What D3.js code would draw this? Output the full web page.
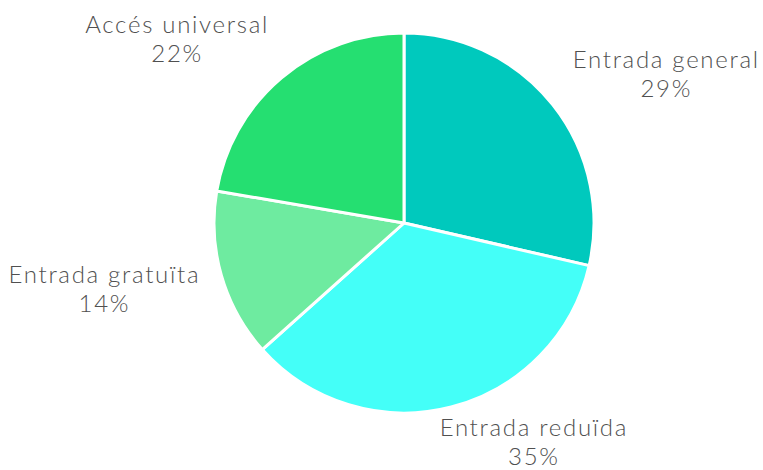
<!DOCTYPE html>
<html>
<head>
<meta charset="utf-8">
<script src="https://cdn.jsdelivr.net/npm/d3@7"></script>
<style>
  html, body { margin: 0; padding: 0; background: #fff; }
  svg { display: block; }
</style>
</head>
<body>
<svg id="chart" width="763" height="470"></svg>
<script>
// Data
const categories = ["Entrada general", "Entrada reduïda", "Entrada gratuïta", "Accés universal"];
const values = [28.6, 34.8, 14.3, 22.3];
const percentLabels = ["29%", "35%", "14%", "22%"];
const colors = ["#00C9BD", "#44FFF8", "#6EEBA0", "#25DF71"];

// Layout
const width = 763, height = 470;
const cx = 404, cy = 223, radius = 190;
const labelRadius = 293;
const labelOffsets = [[33, 27], [57, -71], [-18, -21], [-38, 34]];
const lineGap = 29;

const svg = d3.select("#chart");
const g = svg.append("g").attr("transform", `translate(${cx},${cy})`);

const pie = d3.pie().sort(null).value(d => d.value);
const arc = d3.arc().innerRadius(0).outerRadius(radius);
const labelArc = d3.arc().innerRadius(labelRadius).outerRadius(labelRadius);

const data = categories.map((c, i) => ({ name: c, value: values[i], pct: percentLabels[i], color: colors[i], i }));
const arcs = pie(data);

g.selectAll("path.slice")
  .data(arcs)
  .join("path")
  .attr("class", "slice")
  .attr("d", arc)
  .attr("fill", d => d.data.color)
  .attr("stroke", "#ffffff")
  .attr("stroke-width", 3)
  .attr("stroke-linejoin", "round");

const labels = g.selectAll("text.lbl")
  .data(arcs)
  .join("text")
  .attr("class", "lbl")
  .attr("text-anchor", "middle")
  .attr("font-family", "Lato, 'Open Sans', sans-serif")
  .attr("font-weight", 300)
  .attr("font-size", 24)
  .attr("letter-spacing", "1.7px")
  .attr("fill", "#505050")
  .attr("transform", d => {
    const [x, y] = labelArc.centroid(d);
    const o = labelOffsets[d.data.i];
    return `translate(${x + o[0]},${y + o[1]})`;
  });

labels.append("tspan").attr("x", 0).attr("y", 0).text(d => d.data.name);
labels.append("tspan").attr("x", 0).attr("y", lineGap).text(d => d.data.pct);
</script>
</body>
</html>
